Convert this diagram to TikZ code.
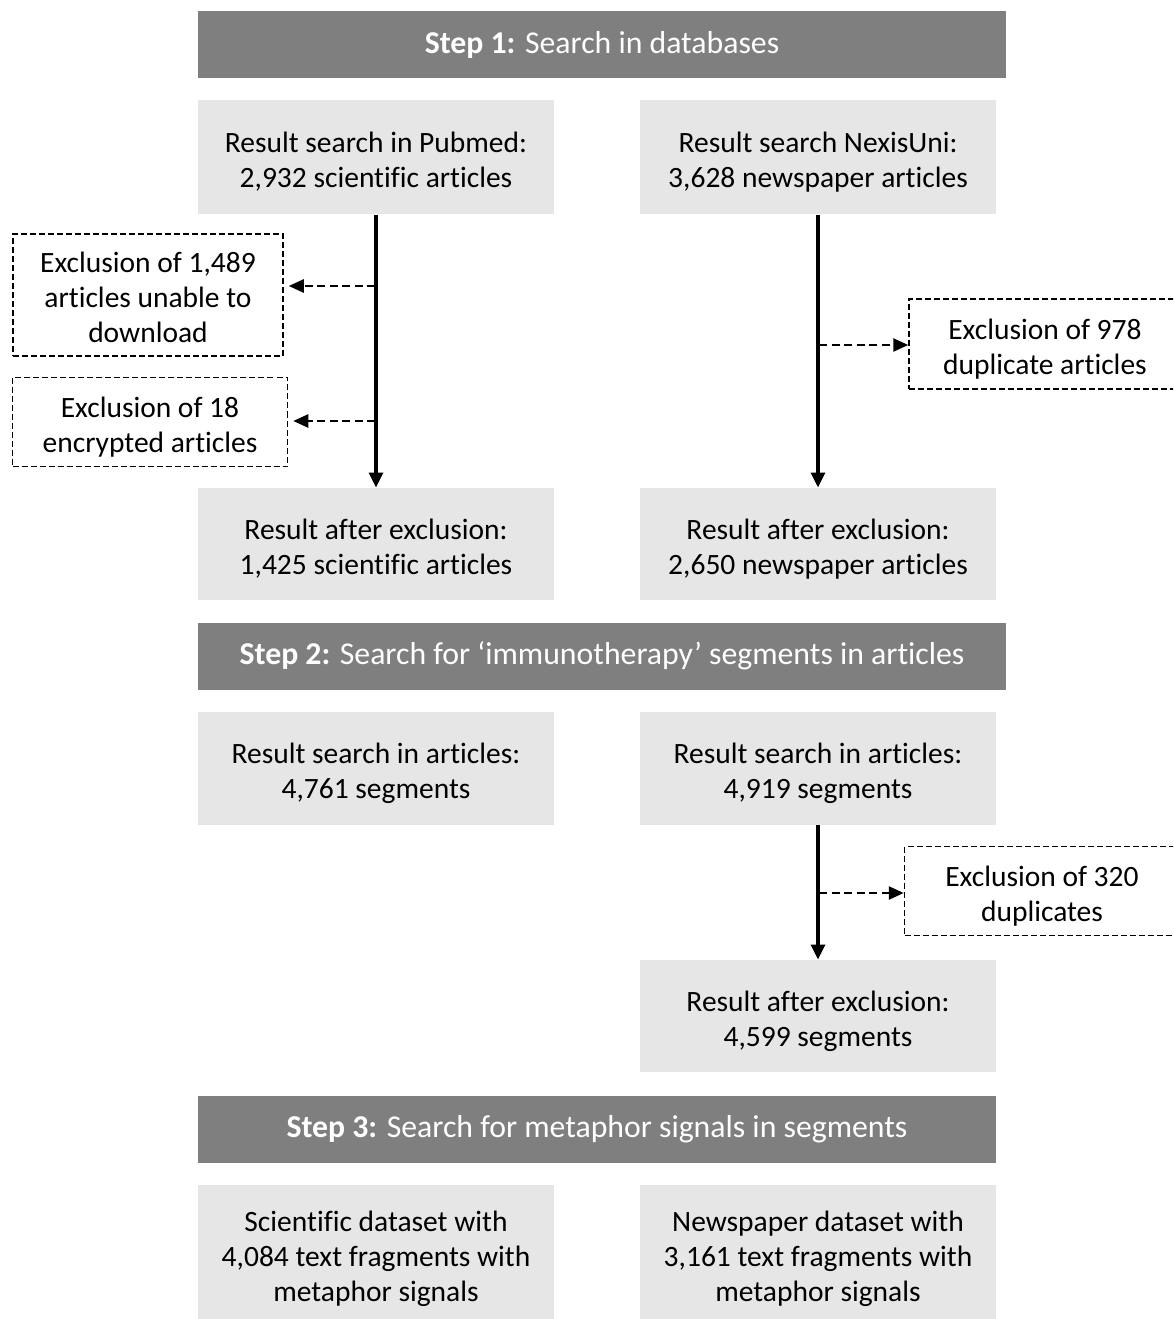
\documentclass[tikz,border=0pt]{standalone}
\usepackage{fontspec}
\setmainfont{Carlito}[Ligatures=NoCommon]
\usetikzlibrary{arrows.meta}

\definecolor{barGray}{HTML}{7F7F7F}
\definecolor{boxGray}{HTML}{E7E6E6}
\newcommand\px{0.4pt}
\newcommand\lift{\rule{0pt}{10pt}}

\tikzset{
  stepbar/.style={fill=barGray, text=white, minimum height=67*\px, inner sep=0pt,
    font=\fontsize{12.7pt}{15pt}\selectfont},
  resbox/.style={fill=boxGray, align=center, minimum width=356*\px, inner sep=0pt, text depth=-1.3pt},
  exbox/.style={draw, dashed, dash pattern=on 2.4pt off 1.2pt, line width=0.6pt, align=center, inner sep=0pt,
    text depth=-1.3pt},
  mainarrow/.style={line width=1.3pt, -{Triangle[length=6pt,width=5.6pt]}},
  exarrow/.style={line width=1pt, dash pattern=on 3.2pt off 1.8pt, -{Triangle[length=6pt,width=5.2pt]}}
}

\begin{document}
\begin{tikzpicture}[x=\px, y=-\px, font=\fontsize{11.8pt}{14pt}\selectfont]
\clip (0,0) rectangle (1173,1319);

% step 1
\node[stepbar, minimum width=808*\px] (step1) at (602,45) {\textbf{Step 1:} Search in databases};
\node[resbox, minimum height=114*\px] (pub) at (376,157) {\lift Result search in Pubmed:\\2,932 scientific articles};
\node[resbox, minimum height=114*\px] (nex) at (818,157) {\lift Result search NexisUni:\\3,628 newspaper articles};
\node[exbox, minimum width=270*\px, minimum height=122*\px] (ex1) at (148,295) {\lift Exclusion of 1,489\\articles unable to\\download};
\node[exbox, minimum width=275*\px, minimum height=89*\px] (ex2) at (150,422) {\lift Exclusion of 18\\encrypted articles};
\node[exbox, minimum width=272*\px, minimum height=90*\px] (ex3) at (1045,344) {\lift Exclusion of 978\\duplicate articles};
\node[resbox, minimum height=112*\px] (pubx) at (376,544) {\lift Result after exclusion:\\1,425 scientific articles};
\node[resbox, minimum height=112*\px] (nexx) at (818,544) {\lift Result after exclusion:\\2,650 newspaper articles};

% step 2
\node[stepbar, minimum width=808*\px] (step2) at (602,656) {\textbf{Step 2:} Search for ‘immunotherapy’ segments in articles};
\node[resbox, minimum height=113*\px] (seg1) at (376,768) {\lift Result search in articles:\\4,761 segments};
\node[resbox, minimum height=113*\px] (seg2) at (818,768) {\lift Result search in articles:\\4,919 segments};
\node[exbox, minimum width=275*\px, minimum height=89*\px] (ex4) at (1042,891) {\lift Exclusion of 320\\duplicates};
\node[resbox, minimum height=112*\px] (segx) at (818,1016) {\lift Result after exclusion:\\4,599 segments};

% step 3
\node[stepbar, minimum width=798*\px] (step3) at (597,1129) {\textbf{Step 3:} Search for metaphor signals in segments};
\node[resbox, minimum height=138*\px] (dat1) at (376,1254) {\lift Scientific dataset with\\4,084 text fragments with\\metaphor signals};
\node[resbox, minimum height=138*\px] (dat2) at (818,1254) {\lift Newspaper dataset with\\3,161 text fragments with\\metaphor signals};

% arrows
\draw[mainarrow] (pub) -- (pubx);
\draw[mainarrow] (nex) -- (nexx);
\draw[mainarrow] (seg2) -- (segx);
\coordinate (b1) at (375,286);
\coordinate (b2) at (375,421);
\coordinate (b3) at (819,345);
\coordinate (b4) at (819,893);
\draw[exarrow, shorten >=2pt] (b1) -- (b1 -| ex1.east);
\draw[exarrow, shorten >=2pt] (b2) -- (b2 -| ex2.east);
\draw[exarrow] (b3) -- (b3 -| ex3.west);
\draw[exarrow] (b4) -- (b4 -| ex4.west);
\end{tikzpicture}
\end{document}
